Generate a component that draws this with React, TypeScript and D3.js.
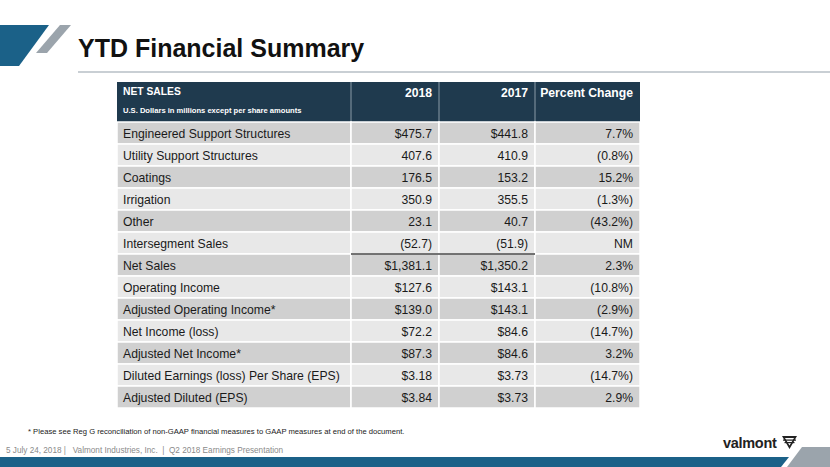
import React from "react";
import * as d3 from "d3";

const rowLabels = [
  "Engineered Support Structures",
  "Utility Support Structures",
  "Coatings",
  "Irrigation",
  "Other",
  "Intersegment Sales",
  "Net Sales",
  "Operating Income",
  "Adjusted Operating Income*",
  "Net Income (loss)",
  "Adjusted Net Income*",
  "Diluted Earnings (loss) Per Share (EPS)",
  "Adjusted Diluted (EPS)",
];
const values2018 = ["$475.7", "407.6", "176.5", "350.9", "23.1", "(52.7)", "$1,381.1", "$127.6", "$139.0", "$72.2", "$87.3", "$3.18", "$3.84"];
const values2017 = ["$441.8", "410.9", "153.2", "355.5", "40.7", "(51.9)", "$1,350.2", "$143.1", "$143.1", "$84.6", "$84.6", "$3.73", "$3.73"];
const pctChange = ["7.7%", "(0.8%)", "15.2%", "(1.3%)", "(43.2%)", "NM", "2.3%", "(10.8%)", "(2.9%)", "(14.7%)", "3.2%", "(14.7%)", "2.9%"];
const columnHeaders = ["2018", "2017", "Percent Change"];
const columnKeys = ["label", "y2018", "y2017", "pct"];

const W = 830;
const H = 467;
const FONT = "'Liberation Sans', Arial, Helvetica, sans-serif";

export default function App() {
  const tableLeft = 117;
  const colEdges = [117, 351, 439, 535, 640];
  const headerTop = 82;
  const headerBottom = 122;
  const rowH = 22;

  const y = d3
    .scaleBand<number>()
    .domain(d3.range(rowLabels.length))
    .range([headerBottom, headerBottom + rowH * rowLabels.length])
    .paddingInner(0);

  const colX = d3.scaleOrdinal<string, number>().domain(columnKeys).range(colEdges.slice(0, 4));
  const colW = (k: string) => colEdges[columnKeys.indexOf(k) + 1] - colEdges[columnKeys.indexOf(k)];

  const rows = rowLabels.map((label, i) => ({
    label,
    y2018: values2018[i],
    y2017: values2017[i],
    pct: pctChange[i],
  }));

  const navy = "#1f3a4e";
  const dark = "#d0d0d0";
  const light = "#e8e8e8";
  const textCol = "#1a1a1a";
  const pad = 7;

  const interIdx = rowLabels.indexOf("Intersegment Sales");

  return (
    <svg
      width={W}
      height={H}
      viewBox={`0 0 ${W} ${H}`}
      style={{ position: "absolute", left: 0, top: 0, background: "#fff" }}
      fontFamily={FONT}
    >
      <rect x={0} y={0} width={W} height={H} fill="#ffffff" />
      {/* top-left decoration */}
      <polygon points="0,25 49,25 19,66 0,66" fill="#1b6188" />
      <polygon points="60,25 71,25 47,53 36,53" fill="#9ba4ac" />
      {/* title */}
      <text x={78} y={57} fontSize={25} fontWeight="bold" fill="#111">
        YTD Financial Summary
      </text>
      <line x1={78} x2={830} y1={72} y2={72} stroke="#c9cfd4" strokeWidth={2} />

      {/* header */}
      <rect x={tableLeft} y={headerTop} width={colEdges[4] - tableLeft} height={headerBottom - headerTop} fill={navy} />
      {colEdges.slice(1, 4).map((x) => (
        <line key={x} x1={x} x2={x} y1={headerTop} y2={headerBottom} stroke="#8a9aa6" strokeWidth={1} />
      ))}
      <text x={123} y={95} fontSize={10.3} fontWeight="bold" fill="#fff">
        NET SALES
      </text>
      <text x={123} y={113} fontSize={7.6} fontWeight="bold" fill="#fff">
        U.S. Dollars in millions except per share amounts
      </text>
      {columnHeaders.map((h, i) => {
        const k = columnKeys[i + 1];
        return (
          <text
            key={h}
            x={colX(k) + colW(k) - pad}
            y={97}
            fontSize={12.2}
            fontWeight="bold"
            fill="#fff"
            textAnchor="end"
          >
            {h}
          </text>
        );
      })}

      {/* body rows */}
      {rows.map((r, i) => {
        const ry = y(i)!;
        const fill = i % 2 === 0 ? dark : light;
        return (
          <g key={r.label}>
            {columnKeys.map((k) => (
              <rect
                key={k}
                x={colX(k)}
                y={ry}
                width={colW(k)}
                height={y.bandwidth()}
                fill={fill}
                stroke="#ffffff"
                strokeWidth={1.5}
              />
            ))}
            <text x={colX("label") + 6} y={ry + 16} fontSize={12.2} fill={textCol}>
              {r.label}
            </text>
            {columnKeys.slice(1).map((k) => (
              <text
                key={k}
                x={colX(k) + colW(k) - pad}
                y={ry + 16}
                fontSize={12.2}
                fill={textCol}
                textAnchor="end"
              >
                {(r as any)[k]}
              </text>
            ))}
          </g>
        );
      })}
      {/* subtotal rule under Intersegment Sales */}
      <line
        x1={colX("y2018")}
        x2={colX("pct")}
        y1={y(interIdx)! + rowH}
        y2={y(interIdx)! + rowH}
        stroke="#444"
        strokeWidth={1.5}
      />

      {/* footnote */}
      <text x={28} y={434} fontSize={7.65} fill="#222">
        * Please see Reg G reconciliation of non-GAAP financial measures to GAAP measures at end of the document.
      </text>
      <text x={6} y={453} fontSize={8.2} fill="#8a8a8a" style={{ whiteSpace: "pre" }}>
        {"5 July 24, 2018 |   Valmont Industries, Inc.  |  Q2 2018 Earnings Presentation"}
      </text>

      {/* logo */}
      <text x={723} y={448} fontSize={14.5} fontWeight="bold" fill="#222" letterSpacing={-0.3}>
        valmont
      </text>
      <g transform="translate(782,436)" fill="#222">
        <path d="M0,0 L15,0 L7.5,13 Z M3,2 L7.5,9.5 L12,2 Z" fillRule="evenodd" />
        <rect x={1} y={3.5} width={13} height={1.2} />
        <rect x={2.5} y={6} width={10} height={1.2} />
      </g>

      {/* bottom band */}
      <polygon points="0,457 789,457 781,467 0,467" fill="#1b6188" />
      <polygon points="802,447 830,447 830,467 787,467" fill="#9ba4ac" />
    </svg>
  );
}
